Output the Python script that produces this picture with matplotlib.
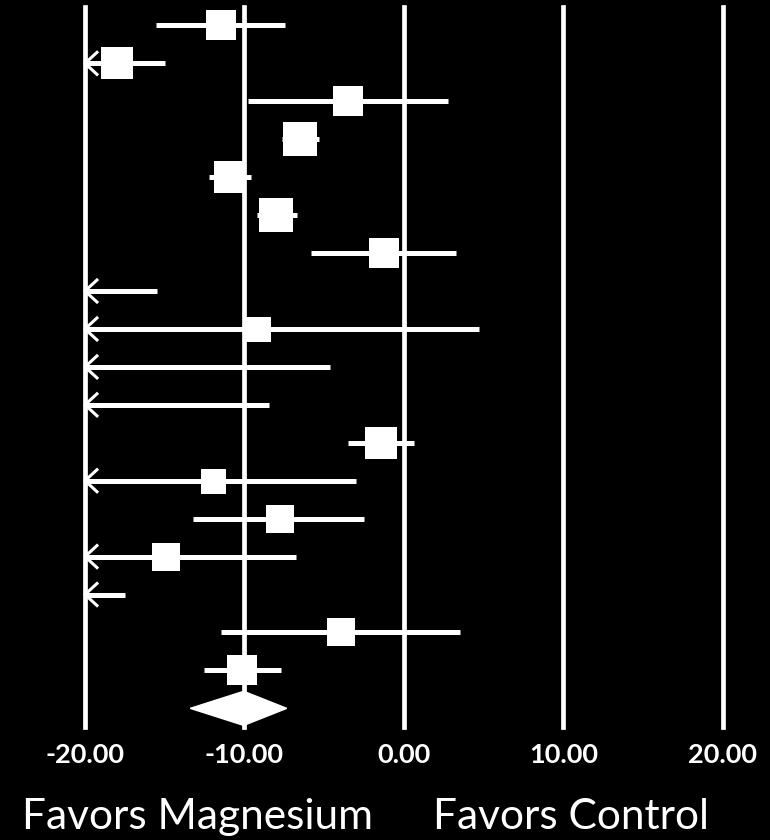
import numpy as np
import matplotlib.pyplot as plt
from matplotlib.patches import Polygon

# mean differences with 95% CI, one row per study (top to bottom)
estimate = [-11.5, -18.0, -3.5, -6.5, -10.9, -8.0, -1.25, -28.0, -9.15,
            -36.0, -33.0, -1.45, -12.0, -7.75, -14.9, -26.0, -3.95, -10.15]
ci_low = [-15.55, -21.0, -9.8, -7.65, -12.25, -9.2, -5.8, -40.0, -23.0,
          -67.0, -58.0, -3.5, -21.0, -13.25, -23.0, -35.0, -11.5, -12.55]
ci_high = [-7.45, -15.0, 2.75, -5.35, -9.6, -6.7, 3.25, -15.5, 4.7,
           -4.65, -8.45, 0.6, -3.0, -2.5, -6.8, -17.5, 3.5, -7.7]
weight = [5.8, 6.5, 5.4, 7.0, 6.2, 7.0, 5.8, 3.5, 4.0,
          3.5, 3.5, 6.2, 4.0, 4.7, 4.7, 3.5, 4.7, 5.8]

# pooled estimate
pooled = -10.05
pooled_low = -13.4
pooled_high = -7.35

ticks = [-20, -10, 0, 10, 20]
tick_labels = ["-20.00", "-10.00", "0.00", "10.00", "20.00"]

fig = plt.figure(figsize=(7.7, 8.4), dpi=100, facecolor="black")
ax = fig.add_axes([0, 0, 1, 1], facecolor="black")
ax.set_xlim(-25.33, 22.95)
ax.set_ylim(21.47, -0.67)
ax.axis("off")

lo_lim = ticks[0]

for t in ticks:
    ax.axvline(t, ymin=0.1345, ymax=0.992, color="white", lw=3.4, zorder=1)

for i, (est, lo, hi, w) in enumerate(zip(estimate, ci_low, ci_high, weight)):
    left = max(lo, lo_lim)
    ax.plot([left, hi], [i, i], color="white", lw=3.6,
            solid_capstyle="butt", zorder=2)
    if lo < lo_lim:
        # open arrowhead marks a truncated interval
        ax.plot([lo_lim + 0.75, lo_lim, lo_lim + 0.75], [i - 0.29, i, i + 0.29],
                color="white", lw=2.2, solid_joinstyle="round", zorder=2)
    if est >= lo_lim:
        side = 12.5 * np.sqrt(w) * 72 / 100
        ax.scatter(est, i, s=side ** 2, marker="s", color="white",
                   linewidths=0, zorder=3)

row = len(estimate)
diamond = Polygon([[pooled_low, row], [pooled, row - 0.45],
                   [pooled_high, row], [pooled, row + 0.45]],
                  closed=True, facecolor="white", edgecolor="white", lw=1, zorder=3)
ax.add_patch(diamond)

for t, lab in zip(ticks, tick_labels):
    ax.text(t, 19.22, lab, color="white", fontsize=19.5, fontweight="bold",
            family="Lato", ha="center", va="center")

fig.text(22 / 770, 1 - 829 / 840, "Favors Magnesium", color="white",
         fontsize=30.5, family="Lato", ha="left", va="baseline")
fig.text(433 / 770, 1 - 829 / 840, "Favors Control", color="white",
         fontsize=30.5, family="Lato", ha="left", va="baseline")

fig.savefig("out.png", dpi=100, facecolor="black")
